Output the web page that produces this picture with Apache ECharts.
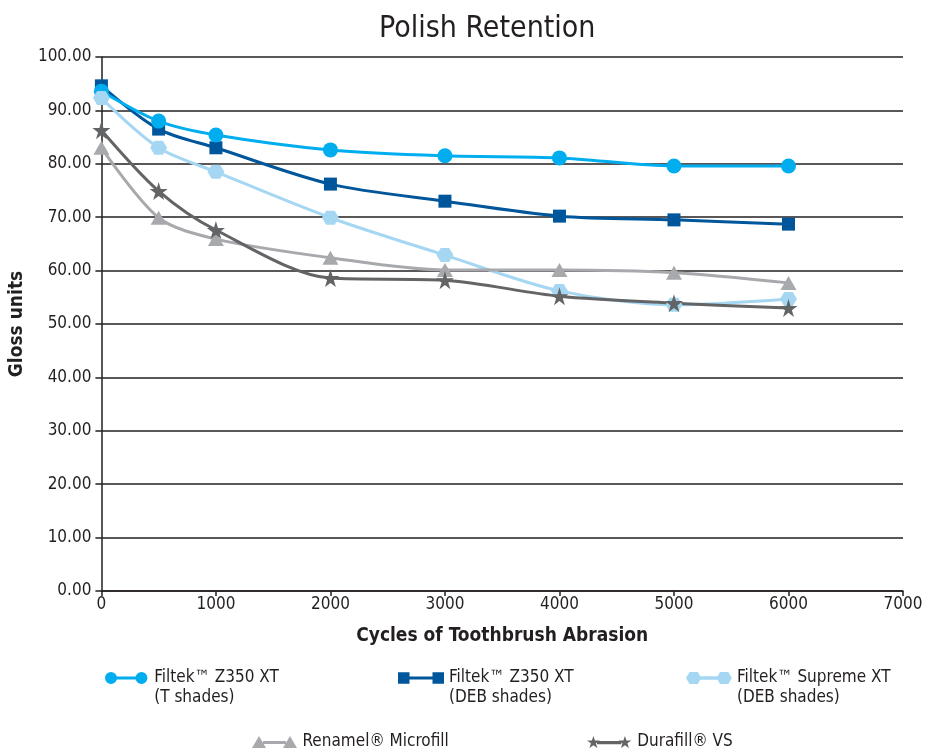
<!DOCTYPE html>
<html lang="en">
<head>
    <meta charset="utf-8">
    <title>Polish Retention</title>
    <script src="https://cdn.jsdelivr.net/npm/echarts@6/dist/echarts.min.js"></script>
    <style>
        body { margin: 0; background: #fff; }
        #main { width: 928px; height: 755px; }
    </style>
</head>
<body>
    <div id="main"></div>
    <script type="text/javascript">
    // --- data ---
    var cycles = [0, 500, 1000, 2000, 3000, 4000, 5000, 6000];
    var names = [
        'Filtek\u2122 Z350 XT\n(T shades)',
        'Filtek\u2122 Z350 XT\n(DEB shades)',
        'Filtek\u2122 Supreme XT\n(DEB shades)',
        'Renamel\u00ae Microfill',
        'Durafill\u00ae VS'
    ];
    var z350T      = [93.6, 88.0, 85.4, 82.6, 81.5, 81.1, 79.6, 79.6];
    var z350DEB    = [94.6, 86.5, 83.0, 76.2, 73.0, 70.2, 69.5, 68.7];
    var supremeDEB = [92.3, 83.0, 78.5, 69.9, 62.9, 56.2, 53.6, 54.7];
    var renamel    = [83.0, 69.9, 65.9, 62.4, 60.1, 60.1, 59.6, 57.7];
    var durafill   = [86.3, 74.9, 67.6, 58.6, 58.2, 55.2, 53.9, 53.0];

    var font = '"Liberation Sans Narrow", "DejaVu Sans Condensed", sans-serif';
    var ink = '#231f20';

    var hexPath = 'path://M25,0 L75,0 L100,50 L75,100 L25,100 L0,50 Z';
    var starPath = 'path://M50,0 L61,35 L98,35 L68,57 L79,91 L50,70 L21,91 L32,57 L2,35 L39,35 Z';

    // legend icons: marker - line - marker
    var icons = [
        'path://M0,65 A65,65 0 1,1 130,65 A65,65 0 1,1 0,65 Z M120,50 L340,50 L340,80 L120,80 Z M330,65 A65,65 0 1,1 460,65 A65,65 0 1,1 330,65 Z',
        'path://M0,0 L110,0 L110,110 L0,110 Z M100,40 L340,40 L340,70 L100,70 Z M330,0 L440,0 L440,110 L330,110 Z',
        'path://M0,55 L32,0 L108,0 L140,55 L108,110 L32,110 Z M130,40 L290,40 L290,70 L130,70 Z M280,55 L312,0 L388,0 L420,55 L388,110 L312,110 Z',
        'path://M70,0 L140,120 L0,120 Z M110,50 L340,50 L340,80 L110,80 Z M380,0 L450,120 L310,120 Z',
        'path://M65,0 L80,44 L128,44 L89,72 L104,118 L65,90 L26,118 L41,72 L2,44 L50,44 Z M100,50 L340,50 L340,80 L100,80 Z M375,0 L390,44 L438,44 L399,72 L414,118 L375,90 L336,118 L351,72 L312,44 L360,44 Z'
    ];
    var colors = ['#00aeef', '#00569b', '#a5d7f3', '#a7a9ac', '#636466'];

    function pairs(vals) {
        return cycles.map(function (c, i) { return [c, vals[i]]; });
    }

    function legendItem(i, left, top, twoLine) {
        return {
            data: [{ name: names[i], icon: icons[i] }],
            left: left,
            top: top,
            itemWidth: 46,
            itemHeight: 12,
            itemGap: 10,
            selectedMode: false,
            // blank first line keeps the icon level with the first text line
            formatter: function (n) { return twoLine ? ' \n' + n : n; },
            textStyle: {
                fontFamily: font,
                fontSize: 17,
                color: ink,
                lineHeight: 20
            }
        };
    }

    var myChart = echarts.init(document.getElementById('main'));

    myChart.setOption({
        animation: false,
        color: colors,
        title: {
            text: 'Polish Retention',
            left: 374,
            top: 9,
            textStyle: { fontFamily: font, fontSize: 30, fontWeight: 'normal', color: ink }
        },
        legend: [
            legendItem(0, 100, 643, true),
            legendItem(1, 393, 643, true),
            legendItem(2, 681, 643, true),
            legendItem(3, 247, 727, false),
            legendItem(4, 582, 727, false)
        ],
        grid: { left: 98, right: 25, top: 57, bottom: 164, containLabel: false },
        xAxis: {
            type: 'value',
            min: 0,
            max: 7000,
            interval: 1000,
            name: 'Cycles of Toothbrush Abrasion',
            nameLocation: 'middle',
            nameGap: 36,
            nameTextStyle: { fontFamily: font, fontSize: 19, fontWeight: 'bold', color: ink },
            axisLine: { lineStyle: { color: ink, width: 1.5 } },
            axisTick: { show: true, length: 5, lineStyle: { color: ink, width: 1.5 } },
            axisLabel: {
                fontFamily: font, fontSize: 17, color: ink, margin: 5,
                formatter: function (v) { return String(v); }
            },
            splitLine: { show: false }
        },
        yAxis: {
            type: 'value',
            min: 0,
            max: 100,
            interval: 10,
            name: 'Gloss units',
            nameLocation: 'middle',
            nameGap: 64,
            nameTextStyle: { fontFamily: font, fontSize: 19, fontWeight: 'bold', color: ink },
            axisLine: { show: true, lineStyle: { color: ink, width: 1.5 } },
            axisTick: { show: true, length: 6, lineStyle: { color: ink, width: 1.5 } },
            axisLabel: {
                fontFamily: font, fontSize: 17, color: ink, margin: 10,
                formatter: function (v) { return v.toFixed(2); }
            },
            splitLine: { show: true, lineStyle: { color: ink, width: 1.5 } }
        },
        series: [
            {
                name: names[1], type: 'line', data: pairs(z350DEB), smooth: 0.3,
                symbol: 'rect', symbolSize: 13,
                lineStyle: { width: 3, color: colors[1] }, itemStyle: { color: colors[1] }
            },
            {
                name: names[0], type: 'line', data: pairs(z350T), smooth: 0.3,
                symbol: 'circle', symbolSize: 15,
                lineStyle: { width: 3, color: colors[0] }, itemStyle: { color: colors[0] }
            },
            {
                name: names[2], type: 'line', data: pairs(supremeDEB), smooth: 0.3,
                symbol: hexPath, symbolSize: [17, 14],
                lineStyle: { width: 3, color: colors[2] }, itemStyle: { color: colors[2] }
            },
            {
                name: names[3], type: 'line', data: pairs(renamel), smooth: 0.3,
                symbol: 'triangle', symbolSize: [16, 14],
                lineStyle: { width: 3, color: colors[3] }, itemStyle: { color: colors[3] }
            },
            {
                name: names[4], type: 'line', data: pairs(durafill), smooth: 0.3,
                symbol: starPath, symbolSize: 18,
                lineStyle: { width: 3, color: colors[4] }, itemStyle: { color: colors[4] }
            }
        ]
    });
    </script>
</body>
</html>
